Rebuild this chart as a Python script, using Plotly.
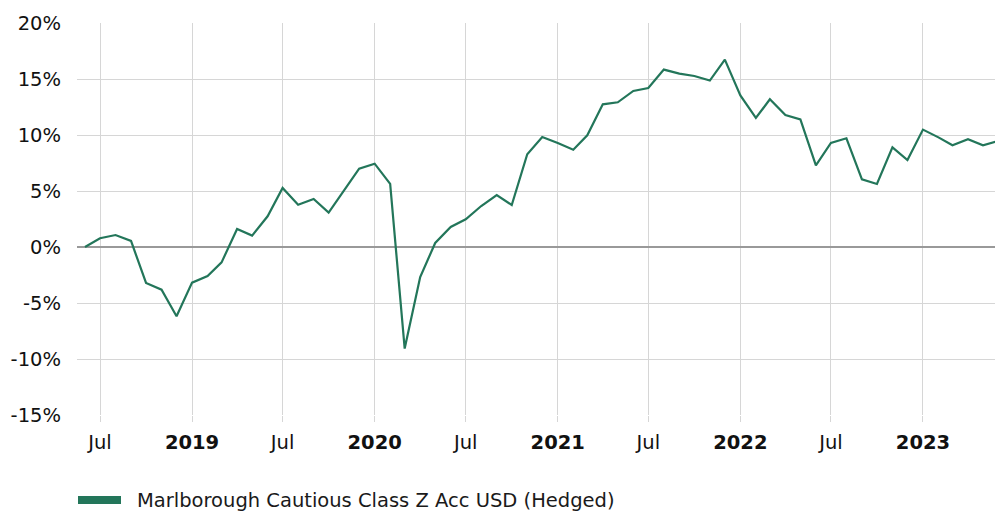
import plotly.graph_objects as go
import pandas as pd

# ---- data ----
start_month = "2018-06-01"
end_month = "2023-06-01"
values = [
    0.00, 0.78, 1.07, 0.54, -3.21, -3.81, -6.19,
    -3.18, -2.59, -1.37, 1.61, 1.02, 2.74, 5.27, 3.78, 4.29, 3.07, 5.03, 7.00,
    7.44, 5.63, -9.07, -2.68, 0.36, 1.79, 2.47, 3.66, 4.64, 3.75, 8.28, 9.82,
    9.29, 8.69, 9.97, 12.74, 12.92, 13.93, 14.20, 15.84, 15.48, 15.27, 14.86, 16.73,
    13.54, 11.52, 13.19, 11.79, 11.40, 7.29, 9.29, 9.71, 6.04, 5.63, 8.90, 7.77,
    10.48, 9.79, 9.08, 9.62, 9.08, 9.47,
]
series_name = "Marlborough Cautious Class Z Acc USD (Hedged)"
x_tick_vals = ["2018-07-01", "2019-01-01", "2019-07-01", "2020-01-01", "2020-07-01",
               "2021-01-01", "2021-07-01", "2022-01-01", "2022-07-01", "2023-01-01"]
x_tick_text = ["Jul", "<b>2019</b>", "Jul", "<b>2020</b>", "Jul",
               "<b>2021</b>", "Jul", "<b>2022</b>", "Jul", "<b>2023</b>"]
y_tick_vals = [-15, -10, -5, 0, 5, 10, 15, 20]
y_tick_text = ["-15%", "-10%", "-5%", "0%", "5%", "10%", "15%", "20%"]

dates = pd.date_range(start_month, end_month, freq="MS")

GREEN = "#23765a"
FONT = "DejaVu Sans"
FS = 19.5

# plot area in page pixels: left 77, right 995, top 23, bottom 415
W, H = 995, 511
L, T, B = 77, 23, 511 - 415
PW, PH = 995 - 77, 415 - 23

fig = go.Figure()
fig.add_trace(go.Scatter(
    x=dates, y=values, mode="lines", name=series_name,
    line=dict(color=GREEN, width=2.2), showlegend=False,
))

fig.update_layout(
    width=W, height=H,
    margin=dict(l=L, r=0, t=T, b=B, autoexpand=False),
    paper_bgcolor="white", plot_bgcolor="white",
    font=dict(family=FONT, size=FS, color="#1a1a1a"),
    xaxis=dict(
        range=["2018-05-16", "2023-05-25"],
        tickvals=x_tick_vals, ticktext=x_tick_text,
        showgrid=True, gridcolor="#d6d6d6", gridwidth=1,
        ticks="outside", ticklen=6, tickcolor="#d6d6d6", tickwidth=1,
        showline=False, zeroline=False, ticklabelstandoff=4,
        tickfont=dict(size=FS, color="#111"),
    ),
    yaxis=dict(
        range=[-15, 20], tickvals=y_tick_vals, ticktext=y_tick_text,
        showgrid=True, gridcolor="#d6d6d6", gridwidth=1,
        zeroline=True, zerolinecolor="#999999", zerolinewidth=1.6,
        showline=False, ticks="", ticklabelstandoff=15,
        tickfont=dict(size=FS, color="#111"),
    ),
)

# legend drawn as key rectangle + label
fig.add_shape(type="rect", xref="paper", yref="paper",
              x0=(78 - 77) / PW, x1=(121 - 77) / PW,
              y0=(415 - 496) / PH, y1=(415 - 504) / PH,
              fillcolor=GREEN, line=dict(width=0))
fig.add_annotation(xref="paper", yref="paper", x=(135 - 77) / PW, y=(415 - 500) / PH,
                   xanchor="left", yanchor="middle", showarrow=False,
                   text=series_name, font=dict(family=FONT, size=FS, color="#1a1a1a"))

fig.write_html(
    "out.html",
    config={"displayModeBar": False},
    post_script="document.body.style.margin='0';document.body.style.overflow='hidden';",
)
